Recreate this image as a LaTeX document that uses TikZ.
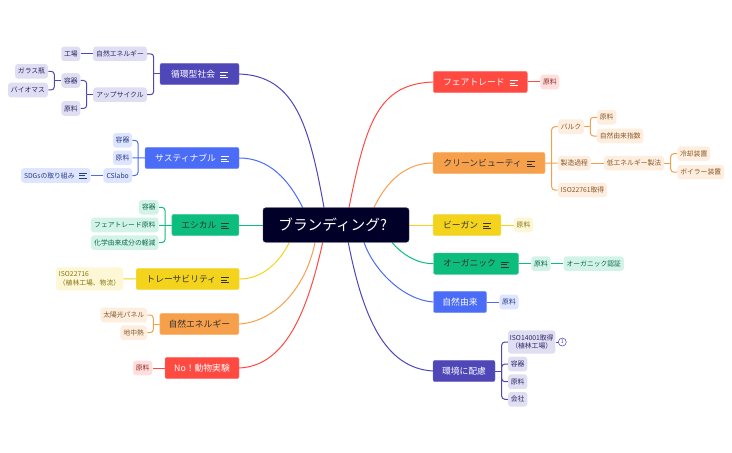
\documentclass[tikz,border=0pt]{standalone}
\usepackage{fontspec}
\setmainfont{Noto Sans CJK JP}
\usepackage{tikz}
\usetikzlibrary{backgrounds}
\definecolor{cindigo}{HTML}{4F46B8}
\definecolor{cblue}{HTML}{4A6CF7}
\definecolor{cgreen}{HTML}{0DBD7D}
\definecolor{cyellow}{HTML}{F3D31C}
\definecolor{corange}{HTML}{F7A04B}
\definecolor{cred}{HTML}{FF4A42}
\definecolor{croot}{HTML}{000028}
\definecolor{ink}{HTML}{333333}
\newcommand{\lst}{\hspace{3.6pt}\raisebox{-0.2pt}{\vbox{\hrule width 6pt height 0.33pt \vskip 1.55pt \hrule width 4.4pt height 0.33pt \vskip 1.55pt \hrule width 6pt height 0.33pt}}}
\tikzset{
  hub/.style n args={3}{rectangle,rounded corners=1.5pt,fill=#1,draw=#1!75!white,line width=0.3pt,text=#2,minimum width=#3*0.75pt,minimum height=16pt,inner sep=0pt,font=\fontsize{6.6}{8}\selectfont},
  leaf/.style n args={2}{rectangle,rounded corners=2.2pt,fill=#1!18!white,text=#1!55!black,minimum width=#2*0.75pt,minimum height=10.9pt,inner sep=0pt,align=left,font=\fontsize{5.1}{6.4}\selectfont},
  twig/.style={draw=#1,line width=0.75pt,rounded corners=2.4pt}
}
\begin{document}
\begin{tikzpicture}[x=0.75pt,y=-0.75pt]
    \useasboundingbox (0,0) rectangle (732,453);
    % centre
    \node[hub={croot}{white}{146},minimum height=25.9pt,rounded corners=2pt,font=\fontsize{11}{13}\selectfont] (root)at (336,225) {ブランディング?\hspace*{5pt}};

    % left side
    \node[hub={cindigo}{white}{79}] (jun)at (199.5,74) {循環型社会\lst};
    \node[hub={cblue}{white}{94}] (sus)at (192,158) {サスティナブル\lst};
    \node[hub={cgreen}{ink}{67}] (eth)at (205.3,225) {エシカル\lst};
    \node[hub={cyellow}{ink}{103}] (tra)at (187.7,279) {トレーサビリティ\lst};
    \node[hub={corange}{ink}{79}] (ene)at (199.3,324) {自然エネルギー};
    \node[hub={cred}{white}{74}] (ani)at (202,368) {No！動物実験};

    % right side
    \node[hub={cred}{white}{94}] (fai)at (480.3,82) {フェアトレード\lst};
    \node[hub={corange}{ink}{112}] (bea)at (489,163) {クリーンビューティ\lst};
    \node[hub={cyellow}{ink}{67.7}] (veg)at (467,225) {ビーガン\lst};
    \node[hub={cgreen}{ink}{85}] (org)at (476,263.7) {オーガニック\lst};
    \node[hub={cblue}{white}{53}] (nat)at (460,302) {自然由来};
    \node[hub={cindigo}{white}{62}] (env)at (464,371) {環境に配慮};

    % jun
    \node[leaf={cindigo}{53.7}] (jun1)at (120,53.8) {自然エネルギー};
    \node[leaf={cindigo}{19}] (jun1a)at (70.8,53.8) {工場};
    \node[leaf={cindigo}{53.7}] (jun2)at (120,94.7) {アップサイクル};
    \node[leaf={cindigo}{19}] (jun2a)at (70.8,80.5) {容器};
    \node[leaf={cindigo}{19}] (jun2b)at (70.8,108.5) {原料};
    \node[leaf={cindigo}{33}] (jun3)at (31.5,71.3) {ガラス瓶};
    \node[leaf={cindigo}{40}] (jun4)at (28,90) {バイオマス};
    \coordinate (junb)at (153.7,74);
    \coordinate (jun2k)at (86.7,94.7);
    \coordinate (jun2l)at (54.3,80.5);

    % sus
    \node[leaf={cblue}{19}] (sus1)at (122.5,140.3) {容器};
    \node[leaf={cblue}{19}] (sus2)at (122.5,157.8) {原料};
    \node[leaf={cblue}{28.7}] (sus3)at (117.7,175.5) {CSlabo};
    \node[leaf={cblue}{69.3}] (sus4)at (55.7,175.5) {SDGsの取り組み\lst};
    \coordinate (susb)at (138,158);

    % eth
    \node[leaf={cgreen}{19.7}] (eth1)at (148.8,207.3) {容器};
    \node[leaf={cgreen}{67.7}] (eth2)at (124.8,225) {フェアトレード原料};
    \node[leaf={cgreen}{67.7}] (eth3)at (124.8,242.7) {化学由来成分の軽減};
    \coordinate (ethb)at (165,225);

    % tra, ene, ani
    \node[leaf={cyellow}{67},minimum height=17.2pt] (tra1)at (89.5,278.8) {ISO22716\\（植林工場、物流）};
    \node[leaf={corange}{46.7}] (ene1)at (123.7,315) {太陽光パネル};
    \node[leaf={corange}{26.7}] (ene2)at (133.7,332.7) {地中熱};
    \coordinate (eneb)at (153.3,324);
    \node[leaf={cred}{19.3}] (ani1)at (142.7,368) {原料};

    % fai, bea
    \node[leaf={cred}{19}] (fai1)at (549.8,82) {原料};
    \node[leaf={corange}{26}] (bea1)at (571,126.7) {バルク};
    \node[leaf={corange}{19.3}] (bea1a)at (606.7,117.3) {原料};
    \node[leaf={corange}{46.3}] (bea1b)at (620.2,136) {自然由来指数};
    \node[leaf={corange}{32.7}] (bea2)at (574.3,163.2) {製造過程};
    \node[leaf={corange}{60}] (bea2a)at (634,163.2) {低エネルギー製法};
    \node[leaf={corange}{32.7}] (bea2b)at (693.7,153.7) {冷却装置};
    \node[leaf={corange}{46.7}] (bea2c)at (700.7,172.2) {ボイラー装置};
    \node[leaf={corange}{49}] (bea3)at (582.5,190) {ISO22761取得};
    \coordinate (beab)at (551.7,163.2);
    \coordinate (bea1k)at (590.3,126.7);
    \coordinate (bea2k)at (670.7,163.2);

    % veg, org, nat
    \node[leaf={cyellow}{19}] (veg1)at (523.5,225) {原料};
    \node[leaf={cgreen}{19.4}] (org1)at (541,263.7) {原料};
    \node[leaf={cgreen}{60.3}] (org2)at (593.8,263.7) {オーガニック認証};
    \node[leaf={cblue}{19.4}] (nat1)at (509,302) {原料};

    % env
    \node[leaf={cindigo}{47.3},minimum height=17.5pt,align=center] (env1)at (531.7,342) {ISO14001取得\\（植林工場）};
    \node[leaf={cindigo}{19.3}] (env2)at (517.7,364) {容器};
    \node[leaf={cindigo}{19.3}] (env3)at (517.7,381.7) {原料};
    \node[leaf={cindigo}{19.3}] (env4)at (517.7,399.3) {会社};
    \node[circle,draw=cindigo,fill=white,line width=0.4pt,text=cindigo,minimum size=6pt,inner sep=0pt,font=\fontsize{4}{5}\selectfont] (env5)at (562.3,342) {1};
    \coordinate (envb)at (501.7,371);

    \begin{pgfonlayer}{background}
    % main curves
    \draw [twig=cindigo] (jun.east) .. controls +(55,2) and +(-15.3,-85) .. ([xshift=-9pt]root.north);
    \draw [twig=cblue] (sus.east) .. controls +(30,0) and +(-14,-28) .. ([xshift=-25pt]root.north);
    \draw [twig=cgreen] (eth.east) -- (root.west);
    \draw [twig=cyellow] (tra.east) .. controls +(23,0) and +(-10,20) .. ([xshift=-35pt]root.south);
    \draw [twig=corange] (ene.east) .. controls +(36,-2) and +(-9,45) .. ([xshift=-15.75pt]root.south);
    \draw [twig=cred] (ani.east) .. controls +(46,-2) and +(-15.4,70) .. ([xshift=-10pt]root.south);
    \draw [twig=cred] (fai.west) .. controls +(-55,2) and +(17,-85) .. ([xshift=9.75pt]root.north);
    \draw [twig=corange] (bea.west) .. controls +(-28,0) and +(12,-25) .. ([xshift=28.5pt]root.north);
    \draw [twig=cyellow] (veg.west) -- (root.east);
    \draw [twig=cgreen] (org.west) .. controls +(-18,0) and +(8.3,10) .. ([xshift=42pt]root.south);
    \draw [twig=cblue] (nat.west) .. controls +(-30,-2) and +(10,28) .. ([xshift=21pt]root.south);
    \draw [twig=cindigo] (env.west) .. controls +(-48,-3) and +(14.7,75) .. ([xshift=9.2pt]root.south);

    % branches
    \draw [twig=cindigo] (jun.west) to (junb);
    \foreach \n in {jun1,jun2} \draw [twig=cindigo] (\n.east) -| (junb);
    \draw [twig=cindigo] (jun1.west) to (jun1a.east);
    \draw [twig=cindigo] (jun2.west) to (jun2k);
    \foreach \n in {jun2a,jun2b} \draw [twig=cindigo] (\n.east) -| (jun2k);
    \draw [twig=cindigo] (jun2a.west) to (jun2l);
    \foreach \n in {jun3,jun4} \draw [twig=cindigo] (\n.east) -| (jun2l);

    \draw [twig=cblue] (sus.west) to (sus2.east);
    \foreach \n in {sus1,sus3} \draw [twig=cblue] (\n.east) -| (susb);
    \draw [twig=cblue] (sus3.west) to (sus4.east);

    \draw [twig=cgreen] (eth.west) to (eth2.east);
    \foreach \n in {eth1,eth3} \draw [twig=cgreen] (\n.east) -| (ethb);

    \draw [twig=cyellow] (tra.west) to (tra1.east);
    \draw [twig=corange] (ene.west) to (eneb);
    \foreach \n in {ene1,ene2} \draw [twig=corange] (\n.east) -| (eneb);
    \draw [twig=cred] (ani.west) to (ani1.east);

    \draw [twig=cred] (fai.east) to (fai1.west);
    \draw [twig=corange] (bea.east) to (bea2.west);
    \foreach \n in {bea1,bea3} \draw [twig=corange] (\n.west) -| (beab);
    \draw [twig=corange] (bea1.east) to (bea1k);
    \foreach \n in {bea1a,bea1b} \draw [twig=corange] (\n.west) -| (bea1k);
    \draw [twig=corange] (bea2.east) to (bea2a.west);
    \draw [twig=corange] (bea2a.east) to (bea2k);
    \foreach \n in {bea2b,bea2c} \draw [twig=corange] (\n.west) -| (bea2k);

    \draw [twig=cyellow] (veg.east) to (veg1.west);
    \draw [twig=cgreen] (org.east) to (org1.west);
    \draw [twig=cgreen] (org1.east) to (org2.west);
    \draw [twig=cblue] (nat.east) to (nat1.west);

    \draw [twig=cindigo] (env.east) to (envb);
    \foreach \n in {env1,env2,env3,env4} \draw [twig=cindigo] (\n.west) -| (envb);
    \draw [twig=cindigo] (env1.east) to (env5.west);
    \end{pgfonlayer}
\end{tikzpicture}
\end{document}
